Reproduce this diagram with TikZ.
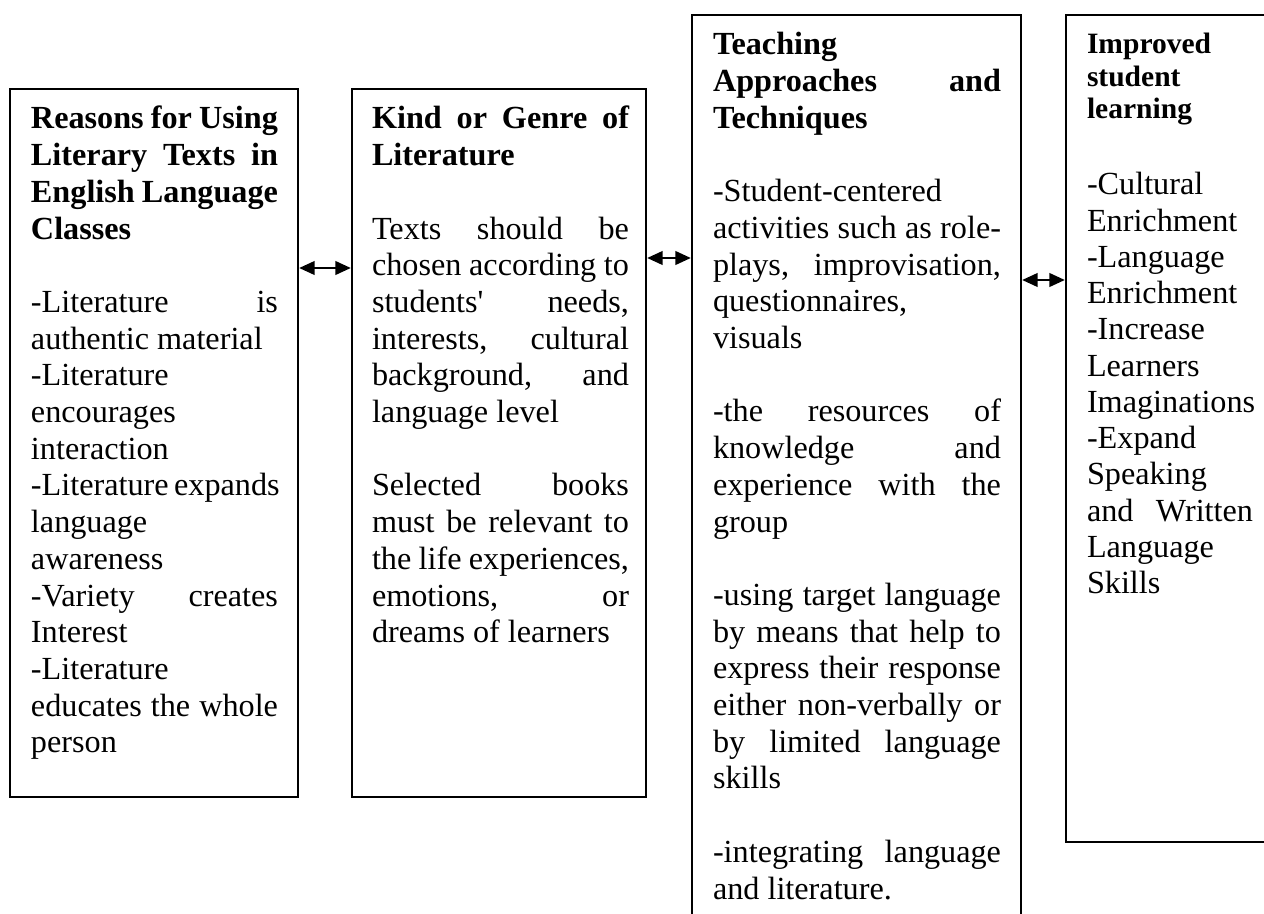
\documentclass[tikz,border=0pt]{standalone}
\usepackage{fontspec}
\setmainfont{Liberation Serif}[Ligatures=TeXOff]
\usetikzlibrary{arrows.meta,fit}
\newdimen\tw
\newdimen\pxu \pxu=0.3725pt
\newcommand\JL[1]{\hbox to \tw{#1}}
\newcommand\LL[1]{\hbox to \tw{#1\hfil}}
\newcommand\BL{\hbox{}}
\hbadness=10000 \hfuzz=20pt
\begin{document}
\begin{tikzpicture}[x=0.3725pt, y=-0.3725pt,
  box/.style={draw=black, line width=0.8pt, inner sep=0pt},
  txt/.style={anchor=base west, inner sep=0pt, outer sep=0pt},
  dar/.style={{Triangle[length=5.8pt,width=5pt]}-{Triangle[length=5.8pt,width=5pt]}, line width=1pt}]
\useasboundingbox (0,0) rectangle (1264,914);
\fill[white] (0,0) rectangle (1264,914);
\clip (0,0) rectangle (1264,914);
% boxes
\node[box, fit={(10,89) (298,797)}] (b1) {};
\node[box, fit={(352,89) (646,797)}] (b2) {};
\node[box, fit={(692,15) (1021,950)}] (b3) {};
\node[box, fit={(1066,15) (1290,842)}] (b4) {};
% texts
\node[txt] (t1) at (31,129) {\vtop{\tw=247\pxu\fontsize{12}{13.67}\selectfont\bfseries
\JL{Reasons for Using}
\JL{Literary Texts in}
\JL{English Language}
\LL{Classes}
\BL
\mdseries
\JL{-Literature is}
\LL{authentic material}
\LL{-Literature}
\LL{encourages}
\LL{interaction}
\JL{-Literature expands}
\LL{language}
\LL{awareness}
\JL{-Variety creates}
\LL{Interest}
\LL{-Literature}
\JL{educates the whole}
\LL{person}}};
\node[txt] (t2) at (372,129) {\vtop{\tw=257\pxu\fontsize{12}{13.67}\selectfont\bfseries
\JL{Kind or Genre of}
\LL{Literature}
\BL
\mdseries
\JL{Texts should be}
\JL{chosen according to}
\JL{students' needs,}
\JL{interests, cultural}
\JL{background, and}
\LL{language level}
\BL
\JL{Selected books}
\JL{must be relevant to}
\JL{the life experiences,}
\JL{emotions, or}
\LL{dreams of learners}}};
\node[txt] (t3) at (713,55) {\vtop{\tw=288\pxu\fontsize{12}{13.67}\selectfont\bfseries
\LL{Teaching}
\JL{Approaches and}
\LL{Techniques}
\BL
\mdseries
\LL{-Student-centered}
\JL{activities such as role-}
\JL{plays, improvisation,}
\LL{questionnaires,}
\LL{visuals}
\BL
\JL{-the resources of}
\JL{knowledge and}
\JL{experience with the}
\LL{group}
\BL
\JL{-using target language}
\JL{by means that help to}
\JL{express their response}
\JL{either non-verbally or}
\JL{by limited language}
\LL{skills}
\BL
\JL{-integrating language}
\LL{and literature.}}};
\node[txt] (t4) at (1087,54) {\vtop{\tw=166\pxu\fontsize{11}{12.1}\selectfont\bfseries
\LL{Improved}
\LL{student}
\LL{learning}
\vskip 14.8pt
\fontsize{12}{13.5}\selectfont\mdseries
\LL{-Cultural}
\LL{Enrichment}
\LL{-Language}
\LL{Enrichment}
\LL{-Increase}
\LL{Learners}
\LL{Imaginations}
\LL{-Expand}
\LL{Speaking}
\JL{and Written}
\LL{Language}
\LL{Skills}}};
% connectors
\coordinate (a1) at (0,268);
\coordinate (a2) at (0,258);
\coordinate (a3) at (0,280);
\draw[dar] (b1.east |- a1) -- (b2.west |- a1);
\draw[dar] (b2.east |- a2) -- (b3.west |- a2);
\draw[dar] (b3.east |- a3) -- (b4.west |- a3);
\end{tikzpicture}
\end{document}
